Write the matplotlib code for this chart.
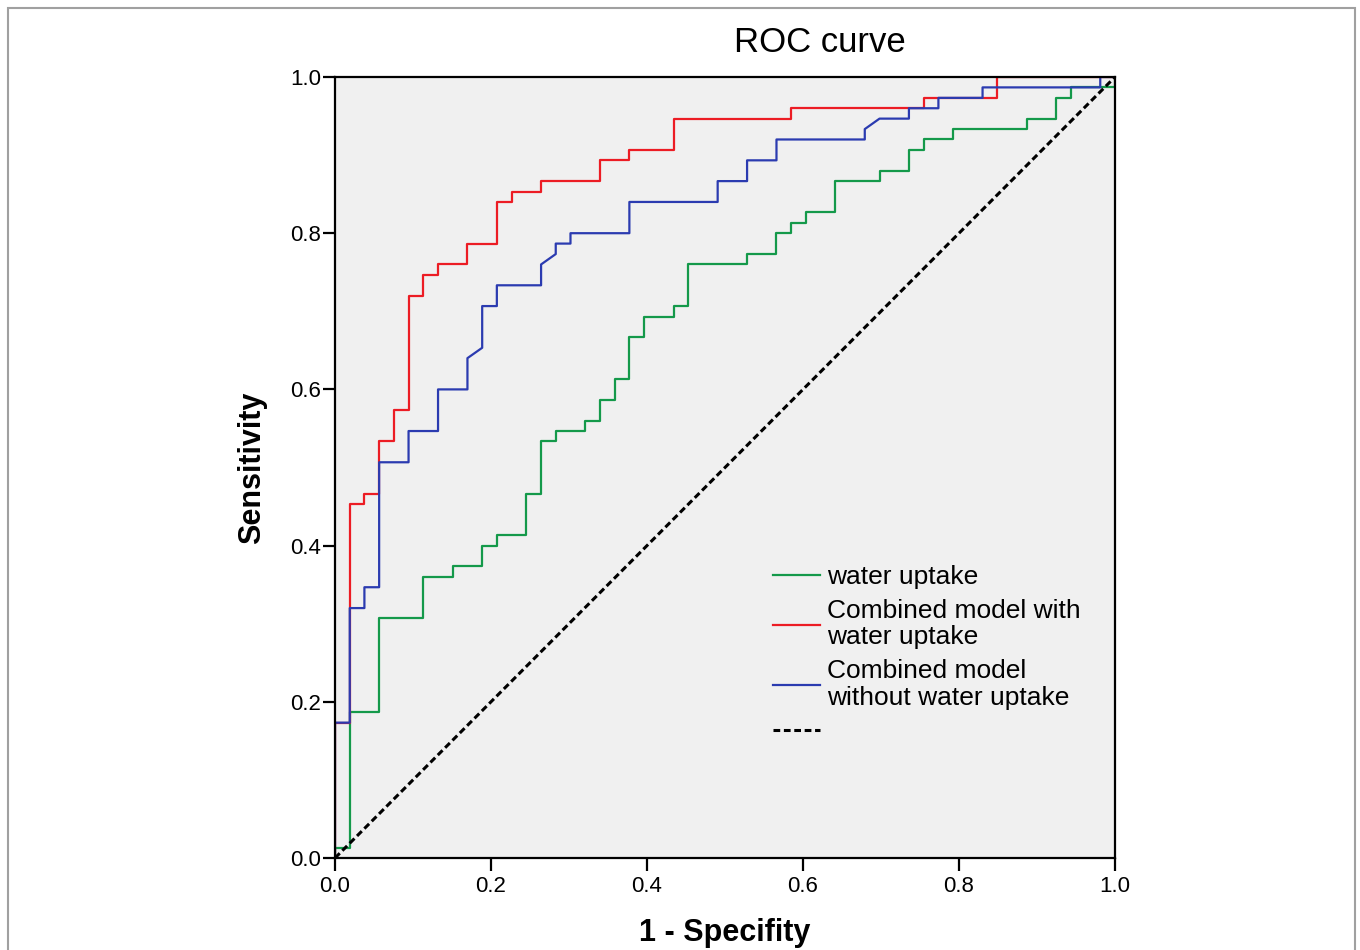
import matplotlib
matplotlib.use("Agg")
from matplotlib import pyplot as plt
from matplotlib.patches import Rectangle

plt.rcParams["font.family"] = ["Liberation Sans", "DejaVu Sans"]

###################
## Data (ROC points)
###################
water_fpr = [0, 0, 0.0189, 0.0189, 0.0566, 0.0566, 0.1132, 0.1132, 0.1509, 0.1509,
             0.1887, 0.1887, 0.2075, 0.2075, 0.2453, 0.2453, 0.2642, 0.2642, 0.283, 0.283,
             0.3208, 0.3208, 0.3396, 0.3396, 0.3585, 0.3585, 0.3774, 0.3774, 0.3962, 0.3962,
             0.434, 0.434, 0.4528, 0.4528, 0.5283, 0.5283, 0.566, 0.566, 0.5849, 0.5849,
             0.6038, 0.6038, 0.6415, 0.6415, 0.6981, 0.6981, 0.7358, 0.7358, 0.7547, 0.7547,
             0.7925, 0.7925, 0.8868, 0.8868, 0.9245, 0.9245, 0.9434, 0.9434, 1.0, 1.0]
water_tpr = [0, 0.0133, 0.0133, 0.1867, 0.1867, 0.3067, 0.3067, 0.36, 0.36, 0.3733,
             0.3733, 0.4, 0.4, 0.4133, 0.4133, 0.4667, 0.4667, 0.5333, 0.5333, 0.5467,
             0.5467, 0.56, 0.56, 0.5867, 0.5867, 0.6133, 0.6133, 0.6667, 0.6667, 0.6933,
             0.6933, 0.7067, 0.7067, 0.76, 0.76, 0.7733, 0.7733, 0.8, 0.8, 0.8133,
             0.8133, 0.8267, 0.8267, 0.8667, 0.8667, 0.88, 0.88, 0.9067, 0.9067, 0.92,
             0.92, 0.9333, 0.9333, 0.9467, 0.9467, 0.9733, 0.9733, 0.9867, 0.9867, 1.0]

with_fpr = [0, 0, 0.0189, 0.0189, 0.0377, 0.0377, 0.0566, 0.0566, 0.0755, 0.0755,
            0.0943, 0.0943, 0.1132, 0.1132, 0.1321, 0.1321, 0.1698, 0.1698, 0.2075, 0.2075,
            0.2264, 0.2264, 0.2642, 0.2642, 0.3396, 0.3396, 0.3774, 0.3774, 0.434, 0.434,
            0.5849, 0.5849, 0.7547, 0.7547, 0.849, 0.849, 1.0]
with_tpr = [0, 0.1733, 0.1733, 0.4533, 0.4533, 0.4667, 0.4667, 0.5333, 0.5333, 0.5733,
            0.5733, 0.72, 0.72, 0.7467, 0.7467, 0.76, 0.76, 0.7867, 0.7867, 0.84,
            0.84, 0.8533, 0.8533, 0.8667, 0.8667, 0.8933, 0.8933, 0.9067, 0.9067, 0.9467,
            0.9467, 0.96, 0.96, 0.9733, 0.9733, 1.0, 1.0]

without_fpr = [0, 0, 0.0189, 0.0189, 0.0377, 0.0377, 0.0566, 0.0566, 0.0943, 0.0943,
               0.1321, 0.1321, 0.1698, 0.1698, 0.1887, 0.1887, 0.2075, 0.2075, 0.2642, 0.2642,
               0.283, 0.283, 0.3019, 0.3019, 0.3774, 0.3774, 0.4906, 0.4906, 0.5283, 0.5283,
               0.566, 0.566, 0.6792, 0.6792, 0.6981, 0.7358, 0.7358, 0.7736, 0.7736, 0.8302,
               0.8302, 0.9811, 0.9811, 1.0]
without_tpr = [0, 0.1733, 0.1733, 0.32, 0.32, 0.3467, 0.3467, 0.5067, 0.5067, 0.5467,
               0.5467, 0.6, 0.6, 0.64, 0.6533, 0.7067, 0.7067, 0.7333, 0.7333, 0.76,
               0.7733, 0.7867, 0.7867, 0.8, 0.8, 0.84, 0.84, 0.8667, 0.8667, 0.8933,
               0.8933, 0.92, 0.92, 0.9333, 0.9467, 0.9467, 0.96, 0.96, 0.9733, 0.9733,
               0.9867, 0.9867, 1.0, 1.0]

labels = ["water uptake", "Combined model with\nwater uptake",
          "Combined model\nwithout water uptake", " "]
ticks = [0.0, 0.2, 0.4, 0.6, 0.8, 1.0]

###################
## Figure
###################
fig = plt.figure(figsize=(13.6, 9.5), dpi=100)
ax = fig.add_axes([335 / 1360, 92 / 950, 780 / 1360, 781 / 950])
ax.set_facecolor("#f0f0f0")

ax.plot(water_fpr, water_tpr, color="#14994a", lw=1.6, label=labels[0])
ax.plot(with_fpr, with_tpr, color="#ec1c24", lw=1.6, label=labels[1])
ax.plot(without_fpr, without_tpr, color="#2b3bb0", lw=1.6, label=labels[2])
ax.plot([0, 1], [0, 1], color="black", lw=2.2, dashes=(2.2, 1.2), label=labels[3])

ax.set_xlim(0, 1)
ax.set_ylim(0, 1)
ax.set_xticks(ticks)
ax.set_yticks(ticks)
ax.set_xticklabels([f"{t:.1f}" for t in ticks])
ax.set_yticklabels([f"{t:.1f}" for t in ticks])
ax.tick_params(direction="out", length=9, width=1.6, labelsize=16, colors="black")
ax.tick_params(axis="x", pad=4)
ax.tick_params(axis="y", pad=1)
for s in ax.spines.values():
  s.set_linewidth(1.6)
  s.set_color("black")

ax.set_xlabel("1 - Specifity", fontsize=22, fontweight="bold", va="top")
ax.xaxis.set_label_coords(0.5, -0.077)
ax.set_ylabel("Sensitivity", fontsize=22, fontweight="bold")
ax.yaxis.set_label_coords(-0.087, 0.5)

fig.text(820 / 1360, 1 - 42 / 950, "ROC curve", fontsize=25, ha="center", va="center")

leg = ax.legend(loc="upper left", bbox_to_anchor=(0.561, 0.375), frameon=False,
                fontsize=19, handlelength=1.78, handletextpad=0.3, labelspacing=0.38,
                borderpad=0, borderaxespad=0)
for t in leg.get_texts():
  t.set_linespacing(1.12)

fig.patches.append(Rectangle((8 / 1360, -0.02), 1347 / 1360, 1.02 - 8 / 950,
                             transform=fig.transFigure, fill=False,
                             edgecolor="#a0a0a0", lw=1.5))

fig.savefig("out.png", dpi=100)
plt.close(fig)
